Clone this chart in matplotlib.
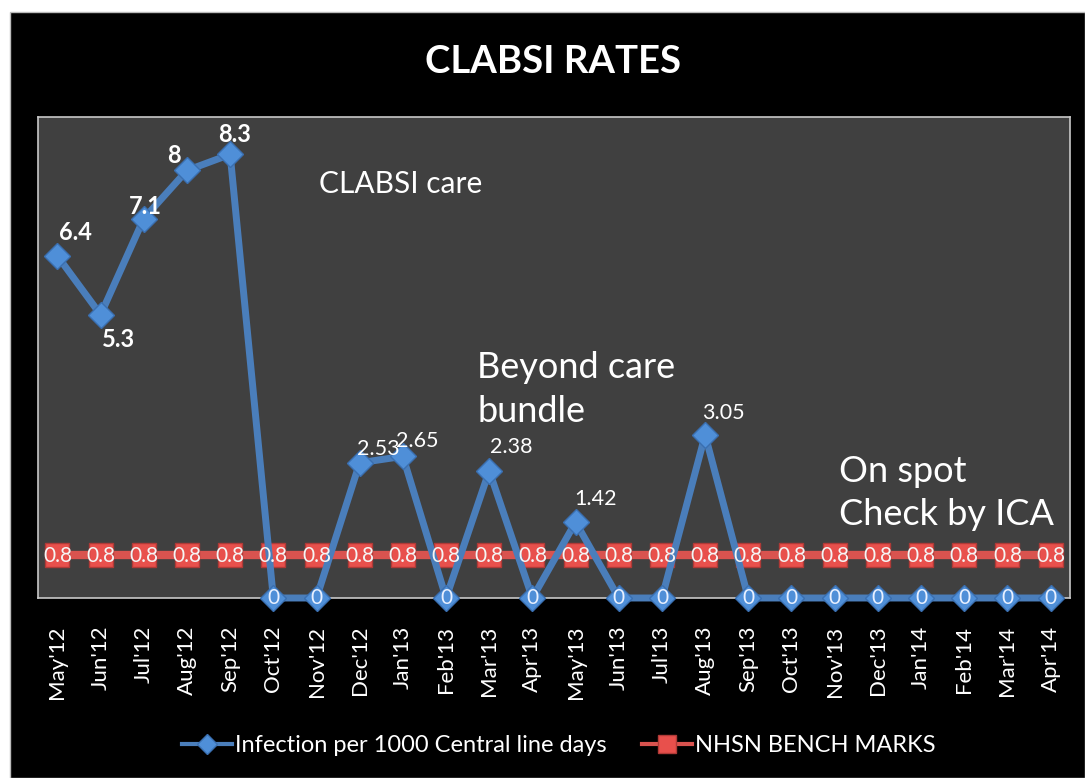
import matplotlib
matplotlib.use("Agg")
import matplotlib.pyplot as plt
from matplotlib.patches import Rectangle

plt.rcParams['font.family'] = ['Lato', 'DejaVu Sans']

months = ["May'12", "Jun'12", "Jul'12", "Aug'12", "Sep'12", "Oct'12", "Nov'12", "Dec'12",
          "Jan'13", "Feb'13", "Mar'13", "Apr'13", "May'13", "Jun'13", "Jul'13", "Aug'13",
          "Sep'13", "Oct'13", "Nov'13", "Dec'13", "Jan'14", "Feb'14", "Mar'14", "Apr'14"]
infection = [6.4, 5.3, 7.1, 8, 8.3, 0, 0, 2.53, 2.65, 0, 2.38, 0, 1.42, 0, 0, 3.05,
             0, 0, 0, 0, 0, 0, 0, 0]
infection_labels = ["6.4", "5.3", "7.1", "8", "8.3", "0", "0", "2.53", "2.65", "0", "2.38", "0",
                    "1.42", "0", "0", "3.05", "0", "0", "0", "0", "0", "0", "0", "0"]
benchmark = [0.8] * 24
series_names = ["Infection per 1000 Central line days", "NHSN BENCH MARKS"]
title = "CLABSI RATES"

W, H = 1085, 778
fig = plt.figure(figsize=(W / 100, H / 100), dpi=100)
fig.patch.set_facecolor('white')
fig.add_artist(Rectangle((10 / W, 0), 1 - 10 / W, 1 - 12 / H, transform=fig.transFigure,
                         facecolor='black', edgecolor='#bbbbbb', linewidth=1, zorder=-10))

ax = fig.add_axes([38 / W, 1 - 598 / H, (1070 - 38) / W, (598 - 117) / H])
ax.set_facecolor('#404040')
for s in ax.spines.values():
    s.set_color('#c8c8c8')
    s.set_linewidth(1.2)

x = list(range(len(months)))
blue = '#4a7ebb'

ax.plot(x, benchmark, color='#d9534f', lw=6, marker='s', ms=17, mfc='#e8504c',
        mec='#b03a37', mew=1, zorder=3, clip_on=False, label=series_names[1])
ax.plot(x, infection, color=blue, lw=5, marker='D', ms=13, mfc='#4f8fd8',
        mec='#3a6fb0', mew=1, zorder=4, clip_on=False, label=series_names[0])

ax.set_xlim(-0.45, len(months) - 0.55)
ax.set_ylim(0, 9)
ax.set_yticks([])
ax.set_xticks(x)
ax.set_xticklabels(months, rotation=90, color='white', fontsize=16)
ax.tick_params(axis='x', length=0, pad=20)

# benchmark labels
for xi, v in zip(x, benchmark):
    ax.annotate(f"{v}", (xi, v), xytext=(0, -1), textcoords='offset pixels', ha='center',
                va='center', color='#f5f5f5', fontsize=15, zorder=6, clip_on=False)

# infection labels
offsets = {0: (18, 23, True), 1: (18, -25, True), 2: (2, 12, True), 3: (-13, 15, True),
           4: (4, 20, True), 7: (19, 14, False), 8: (14, 15, False), 10: (22, 24, False),
           12: (20, 23, False), 15: (18, 22, False)}
for xi, v, lab in zip(x, infection, infection_labels):
    if xi in offsets:
        dx, dy, bold = offsets[xi]
        ax.annotate(lab, (xi, v), xytext=(dx, dy), textcoords='offset pixels', ha='center',
                    va='center', color='white', fontsize=17 if bold else 15.5,
                    fontweight='bold' if bold else 'normal', zorder=7)
    else:
        ax.annotate(lab, (xi, v), xytext=(0, 0), textcoords='offset pixels', ha='center',
                    va='center', color='#e8f0ff', fontsize=15, zorder=7, annotation_clip=False)

ax.text(6.05, 7.75, "CLABSI care", color='white', fontsize=21.5, ha='left', va='center')
ax.text(9.72, 3.9, "Beyond care\nbundle", color='white', fontsize=26, ha='left', va='center',
        linespacing=1.38)
ax.text(18.1, 1.97, "On spot\nCheck by ICA", color='white', fontsize=26, ha='left', va='center',
        linespacing=1.38)

fig.text(553 / W, 1 - 62 / H, title, color='white', fontsize=27.5, fontweight='bold',
         ha='center', va='center')

leg = fig.legend(handles=[ax.lines[1], ax.lines[0]], loc='center', bbox_to_anchor=(559 / W, 1 - 746 / H),
                 ncol=2, frameon=False, fontsize=17, labelcolor='white', handlelength=2.1,
                 columnspacing=1.5, handletextpad=0.15, markerscale=0.8)
for h in leg.legend_handles:
    h.set_linewidth(3)

fig.savefig('out.png', dpi=100, facecolor=fig.get_facecolor())
